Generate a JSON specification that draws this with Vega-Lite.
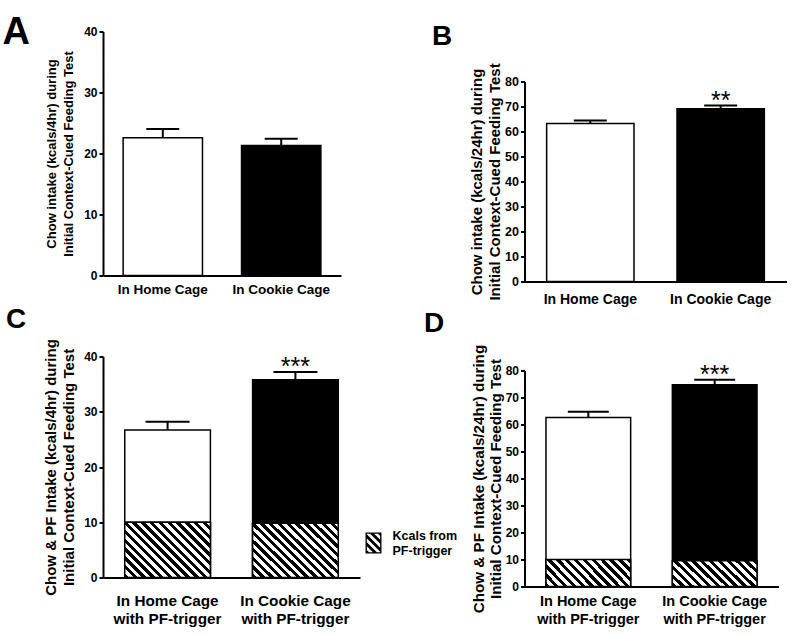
{
  "$schema": "https://vega.github.io/schema/vega-lite/v6.json",
  "padding": {"left": 2, "top": 13.5, "right": 5, "bottom": 5},
  "background": "white",
  "config": {
    "view": {"stroke": null},
    "font": "Liberation Sans",
    "axis": {"domainColor": "black", "domainWidth": 2, "tickColor": "black", "tickWidth": 2, "tickSize": 4, "labelColor": "black", "labelFont": "Liberation Sans", "labelFontWeight": "bold", "titleFont": "Liberation Sans", "titleFontWeight": "bold", "titleColor": "black", "grid": false, "labelPadding": 2},
    "axisX": {"ticks": false, "labelAngle": 0, "title": null}
  },
  "bounds": "flush",
  "spacing": 421.5,
  "resolve": {"scale": {"x": "independent", "y": "independent", "fill": "independent", "color": "independent"}},
  "hconcat": [
    {
      "bounds": "flush",
      "spacing": 81,
      "resolve": {"scale": {"x": "independent", "y": "independent", "fill": "independent", "color": "independent"}},
      "vconcat": [
        {
          "width": 238, "height": 244,
          "title": {"text": "A", "anchor": "start", "frame": "group", "orient": "top", "font": "Liberation Sans", "fontSize": 38, "fontWeight": "bold", "color": "black", "baseline": "alphabetic", "offset": 0, "dx": -100.5, "dy": 56},
          "data": {"values": [
            {"group": "In Home Cage", "mean": 22.6, "upper": 24.0},
            {"group": "In Cookie Cage", "mean": 21.3, "upper": 22.4}
          ]},
          "encoding": {
            "x": {"field": "group", "type": "nominal", "sort": null, "scale": {"paddingInner": 0.33, "paddingOuter": 0.17}, "axis": {"title": null, "labelFontSize": 13.5, "labelPadding": 7}},
            "y": {"field": "mean", "type": "quantitative", "scale": {"domain": [0, 40], "nice": false}, "axis": {"values": [0, 10, 20, 30, 40], "title": ["Chow intake (kcals/4hr) during", "Initial Context-Cued Feeding Test"], "titleFontSize": 13, "titleLineHeight": 17, "titlePadding": 8, "labelFontSize": 12}}
          },
          "layer": [
            {"mark": {"type": "bar", "stroke": "black", "strokeWidth": 1.5}, "encoding": {"fill": {"field": "group", "type": "nominal", "scale": {"domain": ["In Home Cage", "In Cookie Cage"], "range": ["white", "black"]}, "legend": null}}},
            {"mark": {"type": "rule", "color": "black", "strokeWidth": 2}, "encoding": {"y2": {"field": "upper"}}},
            {"mark": {"type": "tick", "color": "black", "thickness": 2, "size": 33, "opacity": 1}, "encoding": {"y": {"field": "upper", "type": "quantitative"}}}
          ]
        },
        {
          "width": 257, "height": 221,
          "title": {"text": "C", "anchor": "start", "frame": "group", "orient": "top", "font": "Liberation Sans", "fontSize": 28, "fontWeight": "bold", "color": "black", "baseline": "alphabetic", "offset": 0, "dx": -97, "dy": 17},
          "data": {"values": [
            {"group": "In Home Cage with PF-trigger", "total": 26.7, "upper": 28.2, "pf": 10.0, "part": "Kcals from PF-trigger", "sig": ""},
            {"group": "In Cookie Cage with PF-trigger", "total": 35.8, "upper": 37.2, "pf": 9.8, "part": "Kcals from PF-trigger", "sig": "***"}
          ]},
          "encoding": {
            "x": {"field": "group", "type": "nominal", "sort": null, "scale": {"paddingInner": 0.33, "paddingOuter": 0.17}, "axis": {"title": null, "labelFontSize": 15.3, "labelPadding": 16, "labelLineHeight": 18, "labelExpr": "[substring(datum.label, 0, indexof(datum.label, ' with')), substring(datum.label, indexof(datum.label, ' with') + 1)]"}},
            "y": {"field": "total", "type": "quantitative", "scale": {"domain": [0, 40], "nice": false}, "axis": {"values": [0, 10, 20, 30, 40], "title": ["Chow & PF Intake (kcals/4hr) during", "Initial Context-Cued Feeding Test"], "titleFontSize": 15, "titleLineHeight": 18, "titlePadding": 7, "labelFontSize": 12}}
          },
          "layer": [
            {"mark": {"type": "bar", "stroke": "black", "strokeWidth": 1.5}, "encoding": {"fill": {"field": "group", "type": "nominal", "scale": {"domain": ["In Home Cage with PF-trigger", "In Cookie Cage with PF-trigger"], "range": ["white", "black"]}, "legend": null}}},
            {"mark": {"type": "bar", "stroke": "black", "strokeWidth": 1.5}, "encoding": {
              "y": {"field": "pf", "type": "quantitative"},
              "color": {"field": "part", "type": "nominal", "scale": {"domain": ["Kcals from PF-trigger"], "range": ["black"]},
              "legend": {"title": null, "orient": "none", "legendX": 260, "legendY": 176, "symbolType": "M-0.76,-1H0.76V1H-0.76Z M-0.63,-0.87V0.87H0.63V-0.87Z M0.31,-1L0.69,-1L0.76,-0.93L0.76,-0.55Z M-0.44,-1L-0.06,-1L0.76,-0.18L0.76,0.2Z M-0.76,-0.95L0.76,0.57L0.76,0.95L-0.76,-0.57Z M-0.76,-0.2L0.44,1L0.06,1L-0.76,0.18Z M-0.76,0.55L-0.31,1L-0.69,1L-0.76,0.93Z", "symbolSize": 441, "symbolStrokeWidth": 0, "symbolFillColor": "black", "symbolOpacity": 1, "labelFont": "Liberation Sans", "labelFontSize": 12.5, "labelFontWeight": "bold", "labelColor": "black", "labelLineHeight": 15, "labelOffset": 8.5, "labelBaseline": "bottom", "labelExpr": "[substring(datum.label, 0, 10), substring(datum.label, 11)]"}}
            }},
            {"mark": {"type": "bar", "stroke": "black", "strokeWidth": 1.5, "fill": {"gradient": "linear", "x1": 0, "y1": 1, "x2": 1.162, "y2": 0.251, "stops": [{"offset":0,"color":"black"},{"offset":0.03125,"color":"black"},{"offset":0.03125,"color":"white"},{"offset":0.0625,"color":"white"},{"offset":0.0625,"color":"black"},{"offset":0.09375,"color":"black"},{"offset":0.09375,"color":"white"},{"offset":0.125,"color":"white"},{"offset":0.125,"color":"black"},{"offset":0.15625,"color":"black"},{"offset":0.15625,"color":"white"},{"offset":0.1875,"color":"white"},{"offset":0.1875,"color":"black"},{"offset":0.21875,"color":"black"},{"offset":0.21875,"color":"white"},{"offset":0.25,"color":"white"},{"offset":0.25,"color":"black"},{"offset":0.28125,"color":"black"},{"offset":0.28125,"color":"white"},{"offset":0.3125,"color":"white"},{"offset":0.3125,"color":"black"},{"offset":0.34375,"color":"black"},{"offset":0.34375,"color":"white"},{"offset":0.375,"color":"white"},{"offset":0.375,"color":"black"},{"offset":0.40625,"color":"black"},{"offset":0.40625,"color":"white"},{"offset":0.4375,"color":"white"},{"offset":0.4375,"color":"black"},{"offset":0.46875,"color":"black"},{"offset":0.46875,"color":"white"},{"offset":0.5,"color":"white"},{"offset":0.5,"color":"black"},{"offset":0.53125,"color":"black"},{"offset":0.53125,"color":"white"},{"offset":0.5625,"color":"white"},{"offset":0.5625,"color":"black"},{"offset":0.59375,"color":"black"},{"offset":0.59375,"color":"white"},{"offset":0.625,"color":"white"},{"offset":0.625,"color":"black"},{"offset":0.65625,"color":"black"},{"offset":0.65625,"color":"white"},{"offset":0.6875,"color":"white"},{"offset":0.6875,"color":"black"},{"offset":0.71875,"color":"black"},{"offset":0.71875,"color":"white"},{"offset":0.75,"color":"white"},{"offset":0.75,"color":"black"},{"offset":0.78125,"color":"black"},{"offset":0.78125,"color":"white"},{"offset":0.8125,"color":"white"},{"offset":0.8125,"color":"black"},{"offset":0.84375,"color":"black"},{"offset":0.84375,"color":"white"},{"offset":0.875,"color":"white"},{"offset":0.875,"color":"black"},{"offset":0.90625,"color":"black"},{"offset":0.90625,"color":"white"},{"offset":0.9375,"color":"white"},{"offset":0.9375,"color":"black"},{"offset":0.96875,"color":"black"},{"offset":0.96875,"color":"white"},{"offset":1,"color":"white"}]}},
             "encoding": {"y": {"field": "pf", "type": "quantitative"}}},
            {"mark": {"type": "rule", "color": "black", "strokeWidth": 2}, "encoding": {"y2": {"field": "upper"}}},
            {"mark": {"type": "tick", "color": "black", "thickness": 2, "size": 44, "opacity": 1}, "encoding": {"y": {"field": "upper", "type": "quantitative"}}},
            {"mark": {"type": "text", "font": "Liberation Sans", "fontSize": 25, "baseline": "alphabetic", "dy": 3, "color": "black"}, "encoding": {"y": {"field": "upper", "type": "quantitative"}, "text": {"field": "sig"}}}
          ]
        }
      ]
    },
    {
      "bounds": "flush",
      "spacing": 0,
      "resolve": {"scale": {"x": "independent", "y": "independent", "fill": "independent", "color": "independent"}},
      "vconcat": [
        {"width": 262, "height": 50, "data": {"values": []}, "mark": "point", "encoding": {}},
        {
          "bounds": "flush",
          "spacing": 89,
          "resolve": {"scale": {"x": "independent", "y": "independent", "fill": "independent", "color": "independent"}},
          "vconcat": [
            {
              "width": 262, "height": 200,
              "title": {"text": "B", "anchor": "start", "frame": "group", "orient": "top", "font": "Liberation Sans", "fontSize": 28, "fontWeight": "bold", "color": "black", "baseline": "alphabetic", "offset": 0, "dx": -92.5, "dy": 10},
              "data": {"values": [
                {"group": "In Home Cage", "mean": 63.2, "upper": 64.4, "sig": ""},
                {"group": "In Cookie Cage", "mean": 69.1, "upper": 70.4, "sig": "**"}
              ]},
              "encoding": {
                "x": {"field": "group", "type": "nominal", "sort": null, "scale": {"paddingInner": 0.33, "paddingOuter": 0.17}, "axis": {"title": null, "labelFontSize": 14, "labelPadding": 11}},
                "y": {"field": "mean", "type": "quantitative", "scale": {"domain": [0, 80], "nice": false}, "axis": {"values": [0, 10, 20, 30, 40, 50, 60, 70, 80], "title": ["Chow intake (kcals/24hr) during", "Initial Context-Cued Feeding Test"], "titleFontSize": 15, "titleLineHeight": 18, "titlePadding": 2, "labelFontSize": 12.5}}
              },
              "layer": [
                {"mark": {"type": "bar", "stroke": "black", "strokeWidth": 1.5}, "encoding": {"fill": {"field": "group", "type": "nominal", "scale": {"domain": ["In Home Cage", "In Cookie Cage"], "range": ["white", "black"]}, "legend": null}}},
                {"mark": {"type": "rule", "color": "black", "strokeWidth": 2}, "encoding": {"y2": {"field": "upper"}}},
                {"mark": {"type": "tick", "color": "black", "thickness": 2, "size": 33, "opacity": 1}, "encoding": {"y": {"field": "upper", "type": "quantitative"}}},
                {"mark": {"type": "text", "font": "Liberation Sans", "fontSize": 25, "baseline": "alphabetic", "dy": 3, "color": "black"}, "encoding": {"y": {"field": "upper", "type": "quantitative"}, "text": {"field": "sig"}}}
              ]
            },
            {
              "width": 254, "height": 216,
              "title": {"text": "D", "anchor": "start", "frame": "group", "orient": "top", "font": "Liberation Sans", "fontSize": 28, "fontWeight": "bold", "color": "black", "baseline": "alphabetic", "offset": 0, "dx": -100.5, "dy": 16},
              "data": {"values": [
                {"group": "In Home Cage with PF-trigger", "total": 62.6, "upper": 64.7, "pf": 10.0, "sig": ""},
                {"group": "In Cookie Cage with PF-trigger", "total": 74.7, "upper": 76.6, "pf": 9.5, "sig": "***"}
              ]},
              "encoding": {
                "x": {"field": "group", "type": "nominal", "sort": null, "scale": {"paddingInner": 0.33, "paddingOuter": 0.17}, "axis": {"title": null, "labelFontSize": 14.5, "labelPadding": 8, "labelLineHeight": 18, "labelExpr": "[substring(datum.label, 0, indexof(datum.label, ' with')), substring(datum.label, indexof(datum.label, ' with') + 1)]"}},
                "y": {"field": "total", "type": "quantitative", "scale": {"domain": [0, 80], "nice": false}, "axis": {"values": [0, 10, 20, 30, 40, 50, 60, 70, 80], "title": ["Chow & PF Intake (kcals/24hr) during", "Initial Context-Cued Feeding Test"], "titleFontSize": 15.2, "titleLineHeight": 17, "titlePadding": 2, "labelFontSize": 12}}
              },
              "layer": [
                {"mark": {"type": "bar", "stroke": "black", "strokeWidth": 1.5}, "encoding": {"fill": {"field": "group", "type": "nominal", "scale": {"domain": ["In Home Cage with PF-trigger", "In Cookie Cage with PF-trigger"], "range": ["white", "black"]}, "legend": null}}},
                {"mark": {"type": "bar", "stroke": "black", "strokeWidth": 1.5, "fill": {"gradient": "linear", "x1": 0, "y1": 1, "x2": 1.195, "y2": 0.629, "stops": [{"offset":0,"color":"black"},{"offset":0.04,"color":"black"},{"offset":0.04,"color":"white"},{"offset":0.08,"color":"white"},{"offset":0.08,"color":"black"},{"offset":0.12,"color":"black"},{"offset":0.12,"color":"white"},{"offset":0.16,"color":"white"},{"offset":0.16,"color":"black"},{"offset":0.2,"color":"black"},{"offset":0.2,"color":"white"},{"offset":0.24,"color":"white"},{"offset":0.24,"color":"black"},{"offset":0.28,"color":"black"},{"offset":0.28,"color":"white"},{"offset":0.32,"color":"white"},{"offset":0.32,"color":"black"},{"offset":0.36,"color":"black"},{"offset":0.36,"color":"white"},{"offset":0.4,"color":"white"},{"offset":0.4,"color":"black"},{"offset":0.44,"color":"black"},{"offset":0.44,"color":"white"},{"offset":0.48,"color":"white"},{"offset":0.48,"color":"black"},{"offset":0.52,"color":"black"},{"offset":0.52,"color":"white"},{"offset":0.56,"color":"white"},{"offset":0.56,"color":"black"},{"offset":0.6,"color":"black"},{"offset":0.6,"color":"white"},{"offset":0.64,"color":"white"},{"offset":0.64,"color":"black"},{"offset":0.68,"color":"black"},{"offset":0.68,"color":"white"},{"offset":0.72,"color":"white"},{"offset":0.72,"color":"black"},{"offset":0.76,"color":"black"},{"offset":0.76,"color":"white"},{"offset":0.8,"color":"white"},{"offset":0.8,"color":"black"},{"offset":0.84,"color":"black"},{"offset":0.84,"color":"white"},{"offset":0.88,"color":"white"},{"offset":0.88,"color":"black"},{"offset":0.92,"color":"black"},{"offset":0.92,"color":"white"},{"offset":0.96,"color":"white"},{"offset":0.96,"color":"black"},{"offset":1,"color":"black"}]}},
                 "encoding": {"y": {"field": "pf", "type": "quantitative"}}},
                {"mark": {"type": "rule", "color": "black", "strokeWidth": 2}, "encoding": {"y2": {"field": "upper"}}},
                {"mark": {"type": "tick", "color": "black", "thickness": 2, "size": 41, "opacity": 1}, "encoding": {"y": {"field": "upper", "type": "quantitative"}}},
                {"mark": {"type": "text", "font": "Liberation Sans", "fontSize": 25, "baseline": "alphabetic", "dy": 3, "color": "black"}, "encoding": {"y": {"field": "upper", "type": "quantitative"}, "text": {"field": "sig"}}}
              ]
            }
          ]
        }
      ]
    }
  ]
}
